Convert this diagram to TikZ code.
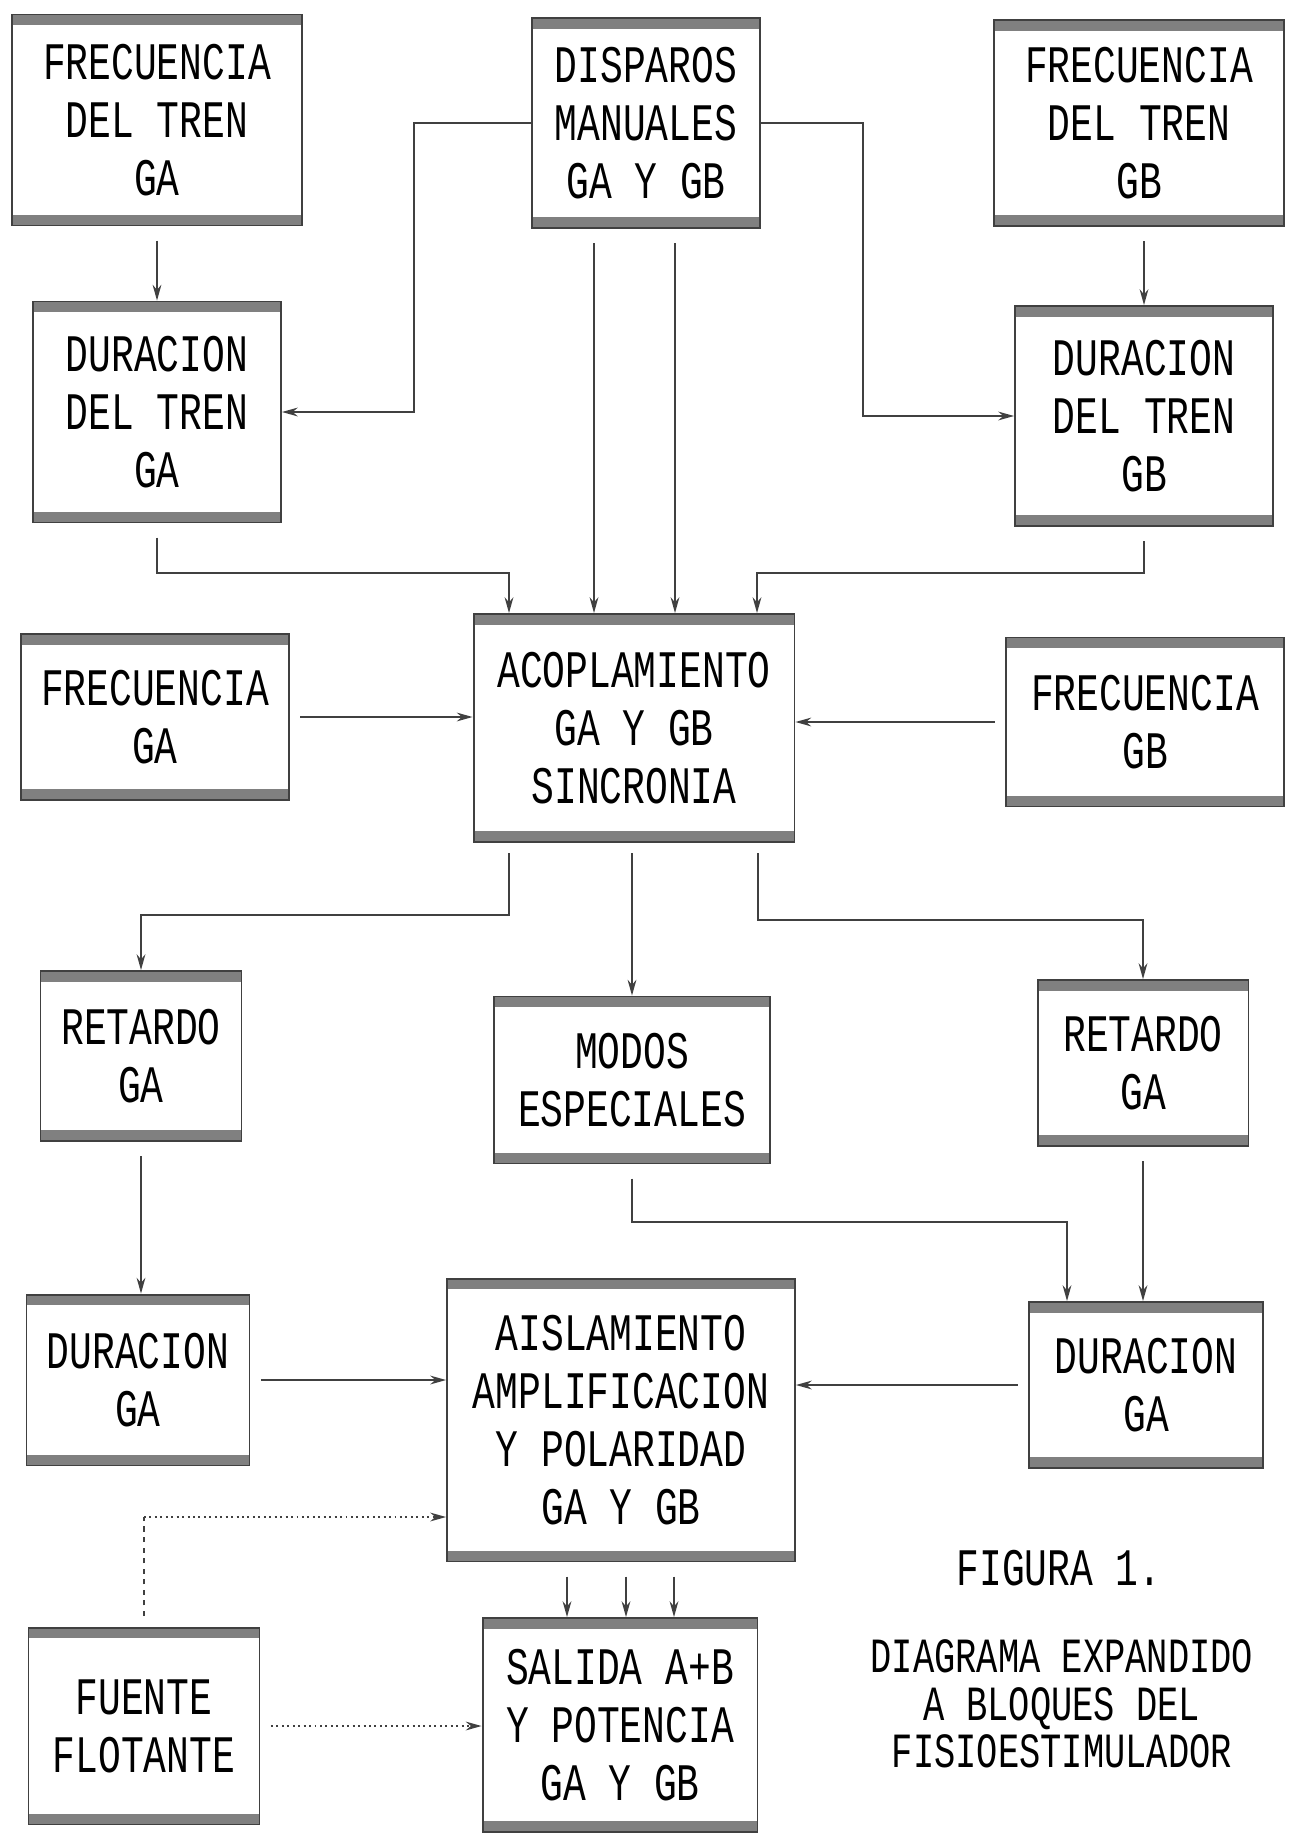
\documentclass[tikz,border=0pt]{standalone}
\usepackage{fontspec}
\usepackage{tikz}
\usetikzlibrary{arrows.meta,calc,positioning}

\newfontfamily\dotfont[FakeStretch=0.72]{Liberation Mono}
\newcommand\blkfont{\dotfont\fontsize{30pt}{33pt}\selectfont}

\tikzset{
  blk/.style={draw=black!75, line width=1.1pt, align=center, inner sep=0pt, font=\blkfont,
    path picture={
      \fill[black!50] (path picture bounding box.north west) rectangle ([yshift=-6pt]path picture bounding box.north east);
      \fill[black!50] (path picture bounding box.south west) rectangle ([yshift=6pt]path picture bounding box.south east);
    }},
  conn/.style={->, draw=black!75, line width=0.9pt},
  dotconn/.style={->, draw=black!75, line width=1.1pt, dotted},
}

\begin{document}
\begin{tikzpicture}[x=0.02cm,y=-0.02cm,>={Stealth[length=9pt,width=5pt]}]
  \useasboundingbox (0,0) rectangle (1288,1835);

  % Top row
  \node[blk, minimum width=5.8cm, minimum height=4.22cm] (frtrenA) at (157,120) {FRECUENCIA\\DEL TREN\\GA};
  \node[blk, minimum width=4.56cm, minimum height=4.2cm] (disparos) at (646,123) {DISPAROS\\MANUALES\\GA Y GB};
  \node[blk, minimum width=5.8cm, minimum height=4.12cm] (frtrenB) at (1139,123) {FRECUENCIA\\DEL TREN\\GB};

  % Train duration
  \node[blk, minimum width=4.96cm, minimum height=4.42cm] (durtrenA) at (157,412) {DURACION\\DEL TREN\\GA};
  \node[blk, minimum width=5.16cm, minimum height=4.4cm] (durtrenB) at (1144,416) {DURACION\\DEL TREN\\GB};

  % Coupling row
  \node[blk, minimum width=5.36cm, minimum height=3.32cm] (frecA) at (155,717) {FRECUENCIA\\GA};
  \node[blk, minimum width=6.42cm, minimum height=4.56cm] (acopla) at (634,728) {ACOPLAMIENTO\\GA Y GB\\SINCRONIA};
  \node[blk, minimum width=5.56cm, minimum height=3.38cm] (frecB) at (1145,722) {FRECUENCIA\\GB};

  % Delay row
  \node[blk, minimum width=4.02cm, minimum height=3.4cm] (retA) at (141,1056) {RETARDO\\GA};
  \node[blk, minimum width=5.52cm, minimum height=3.34cm] (modos) at (632,1080) {MODOS\\ESPECIALES};
  \node[blk, minimum width=4.22cm, minimum height=3.32cm] (retB) at (1143,1063) {RETARDO\\GA};

  % Duration and output stage
  \node[blk, minimum width=4.46cm, minimum height=3.42cm] (durA) at (138,1380) {DURACION\\GA};
  \node[blk, minimum width=6.96cm, minimum height=5.66cm] (aisla) at (621,1420) {AISLAMIENTO\\AMPLIFICACION\\Y POLARIDAD\\GA Y GB};
  \node[blk, minimum width=4.68cm, minimum height=3.32cm] (durB) at (1146,1385) {DURACION\\GA};

  \node[blk, minimum width=4.62cm, minimum height=3.94cm] (fuente) at (144,1726) {FUENTE\\FLOTANTE};
  \node[blk, minimum width=5.5cm, minimum height=4.28cm] (salida) at (620,1725) {SALIDA A+B\\Y POTENCIA\\GA Y GB};

  % Caption
  \node[font=\blkfont] (figura) at (1059,1568) {FIGURA 1.};
  \node[font=\dotfont\fontsize{28pt}{27pt}\selectfont, align=center] (titulo) at (1062,1704) {DIAGRAMA EXPANDIDO\\A BLOQUES DEL\\FISIOESTIMULADOR};

  % Connectors
  \draw[conn, shorten <=8pt] (frtrenA.south -| durtrenA.north) -- (durtrenA.north);
  \draw[conn, shorten <=8pt] (frtrenB.south -| durtrenB.north) -- (durtrenB.north);
  \draw[conn] (disparos.west) -- ++(-117,0) |- (durtrenA.east);
  \draw[conn] (disparos.east) -- ++(102,0) |- (durtrenB.west);
  \foreach \x in {594,675}
    \draw[conn, shorten <=8pt] (disparos.south -| \x,0) -- (acopla.north -| \x,0);
  \draw[conn, shorten <=8pt] (durtrenA.south) |- (509,573) -- (acopla.north -| 509,0);
  \draw[conn, shorten <=8pt] (durtrenB.south) |- (757,573) -- (acopla.north -| 757,0);
  \draw[conn, shorten <=6pt] (frecA.east) -- (acopla.west |- frecA.east);
  \draw[conn, shorten <=6pt] (frecB.west) -- (acopla.east |- frecB.west);

  \draw[conn, shorten <=6pt] (acopla.south -| 509,0) -- (509,915) -| (retA.north);
  \draw[conn, shorten <=6pt] (acopla.south -| modos.north) -- (modos.north);
  \draw[conn, shorten <=6pt] (acopla.south -| 758,0) -- (758,920) -| (retB.north);

  \draw[conn, shorten <=8pt] (retA.south) -- (durA.north -| retA.south);
  \draw[conn, shorten <=8pt] (retB.south) -- (durB.north -| retB.south);
  \draw[conn, shorten <=8pt] (modos.south) |- (1067,1222) -- (durB.north -| 1067,0);
  \draw[conn, shorten <=6pt] (durA.east) -- (aisla.west |- durA.east);
  \draw[conn, shorten <=6pt] (durB.west) -- (aisla.east |- durB.west);

  \coordinate (fcorner) at (fuente.north |- 0,1517);
  \draw[draw=black!75, line width=1pt, dashed, shorten <=6pt] (fuente.north) -- (fcorner);
  \draw[dotconn] (fcorner) -- (aisla.west |- fcorner);
  \draw[dotconn, shorten <=6pt] (fuente.east) -- (salida.west |- fuente.east);
  \foreach \x in {567,626,674}
    \draw[conn, shorten <=8pt] (aisla.south -| \x,0) -- (salida.north -| \x,0);
\end{tikzpicture}
\end{document}
